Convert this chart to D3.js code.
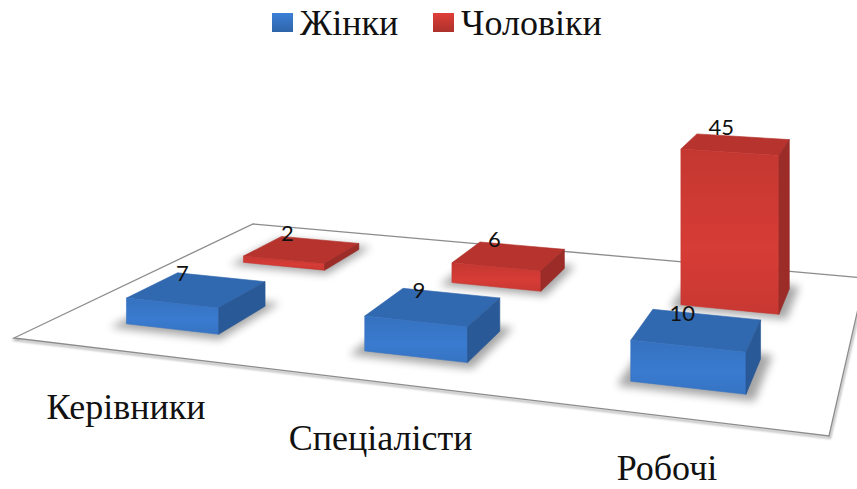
<!DOCTYPE html>
<html>
<head>
<meta charset="utf-8">
<script src="https://cdn.jsdelivr.net/npm/d3@7"></script>
<style>
  body { margin: 0; background: #fff; }
  svg { display: block; }
</style>
</head>
<body>
<script>
const categories = ['Керівники', 'Спеціалісти', 'Робочі'];
const seriesNames = ['Жінки', 'Чоловіки'];
const women = [7, 9, 10];
const men = [2, 6, 45];
const seriesColors = ['#3877c9', '#cf3a34'];

const width = 857, height = 489;

const svg = d3.select('body').append('svg')
    .attr('width', width)
    .attr('height', height);

const defs = svg.append('defs');
defs.append('filter').attr('id', 'blur')
    .attr('x', '-30%').attr('y', '-30%').attr('width', '160%').attr('height', '160%')
    .append('feGaussianBlur').attr('stdDeviation', 4);
defs.append('filter').attr('id', 'blurLine')
    .append('feGaussianBlur').attr('stdDeviation', 1.2);

seriesColors.forEach((c, i) => {
    let grad = defs.append('linearGradient').attr('id', 'leg' + i)
        .attr('x1', 0).attr('y1', 0).attr('x2', 0).attr('y2', 1);
    grad.append('stop').attr('offset', '0%').attr('stop-color', d3.color(c).brighter(0.2));
    grad.append('stop').attr('offset', '100%').attr('stop-color', d3.color(c).darker(0.5));
    let front = defs.append('linearGradient').attr('id', 'front' + i)
        .attr('x1', 0).attr('y1', 0).attr('x2', 0).attr('y2', 1);
    front.append('stop').attr('offset', '0%').attr('stop-color', d3.color(c).darker(0.15));
    front.append('stop').attr('offset', '60%').attr('stop-color', d3.color(c).brighter(0.1));
    front.append('stop').attr('offset', '100%').attr('stop-color', d3.color(c).darker(0.1));
});

// floor corners on screen: front-left, front-right, back-right, back-left
const floor = [[14, 338], [829, 436], [865, 278], [253, 224]];

// square -> quad perspective mapping
function homography(q) {
    const [[x0, y0], [x1, y1], [x2, y2], [x3, y3]] = q;
    const dx1 = x1 - x2, dx2 = x3 - x2, dx3 = x0 - x1 + x2 - x3;
    const dy1 = y1 - y2, dy2 = y3 - y2, dy3 = y0 - y1 + y2 - y3;
    const den = dx1 * dy2 - dx2 * dy1;
    const g = (dx3 * dy2 - dx2 * dy3) / den;
    const h = (dx1 * dy3 - dx3 * dy1) / den;
    return {a: x1 - x0 + g * x1, b: x3 - x0 + h * x3, c: x0,
            d: y1 - y0 + g * y1, e: y3 - y0 + h * y3, f: y0, g, h};
}
const H = homography(floor);
function project(u, v, z) {
    const w = H.g * u + H.h * v + 1;
    return [(H.a * u + H.b * v + H.c) / w, (H.d * u + H.e * v + H.f - z) / w];
}

const x = d3.scaleBand().domain(categories).range([0, 1]);
const z = d3.scaleBand().domain(seriesNames).range([0, 1]);
const y = d3.scaleLinear().domain([0, 45]).range([0, 171]);

// floor
const g = svg.append('g');
g.append('polygon')
    .attr('points', floor.map(p => [p[0] + 1, p[1] + 2]).join(' '))
    .attr('fill', 'none')
    .attr('stroke', '#000')
    .attr('stroke-opacity', 0.3)
    .attr('stroke-width', 2)
    .attr('filter', 'url(#blurLine)');
g.append('polygon')
    .attr('points', floor.join(' '))
    .attr('fill', '#fff')
    .attr('stroke', '#8c8c8c')
    .attr('stroke-width', 1.3);

let bars = [];
seriesNames.forEach((s, si) => {
    let vals = si === 0 ? women : men;
    categories.forEach((c, ci) => bars.push({s, si, c, value: vals[ci]}));
});
bars.sort((a, b) => b.si - a.si); // back row first

function box(d) {
    let u0 = x(d.c) + x.bandwidth() * 0.3, u1 = x(d.c) + x.bandwidth() * 0.7;
    let v0 = z(d.s) + z.bandwidth() * 0.3, v1 = z(d.s) + z.bandwidth() * 0.7;
    return {u0, u1, v0, v1, t: y(d.value)};
}

function faces(d) {
    let {u0, u1, v0, v1, t} = box(d);
    let P = project;
    return [
        {k: 'top', pts: [P(u0, v0, t), P(u0, v1, t), P(u1, v1, t), P(u1, v0, t)]},
        {k: 'front', pts: [P(u0, v0, 0), P(u0, v0, t), P(u1, v0, t), P(u1, v0, 0)]},
        {k: 'back', pts: [P(u0, v1, 0), P(u1, v1, 0), P(u1, v1, t), P(u0, v1, t)]},
        {k: 'right', pts: [P(u1, v0, 0), P(u1, v0, t), P(u1, v1, t), P(u1, v1, 0)]},
        {k: 'left', pts: [P(u0, v0, 0), P(u0, v1, 0), P(u0, v1, t), P(u0, v0, t)]}
    ];
}

// shadows under the bars
g.selectAll('.shadow').data(bars).enter().append('polygon')
    .attr('class', 'shadow')
    .attr('points', d => {
        let {u0, u1, v0, v1} = box(d);
        let du = 0.012, dv = 0.03;
        return [project(u0 - du, v0 - dv, 0), project(u1 + du, v0 - dv, 0),
                project(u1 + du, v1 + dv, 0), project(u0 - du, v1 + dv, 0)].join(' ');
    })
    .attr('fill', '#000')
    .attr('opacity', 0.35)
    .attr('filter', 'url(#blur)');

const shade = {top: 0.35, front: 0, right: 0.8, left: 0.55, back: 0.9};

let barG = g.selectAll('.bar').data(bars).enter().append('g').attr('class', 'bar');
barG.each(function(d) {
    let fs = faces(d);
    let sign = Math.sign(d3.polygonArea(fs[0].pts));
    let visible = fs.filter(f => Math.sign(d3.polygonArea(f.pts)) === sign);
    d3.select(this).selectAll('polygon').data(visible).enter().append('polygon')
        .attr('points', f => f.pts.join(' '))
        .attr('fill', f => f.k === 'front' ? `url(#front${d.si})`
            : d3.color(seriesColors[d.si]).darker(shade[f.k]))
        .attr('stroke', f => d3.color(seriesColors[d.si]).darker(shade[f.k] + 0.1))
        .attr('stroke-width', 0.6)
        .attr('stroke-linejoin', 'round');
});

// value labels
g.selectAll('.value').data(bars).enter().append('text')
    .attr('class', 'value')
    .attr('x', d => project(x(d.c) + x.bandwidth() / 2, z(d.s) + z.bandwidth() / 2, y(d.value))[0] - 15)
    .attr('y', d => project(x(d.c) + x.bandwidth() / 2, z(d.s) + z.bandwidth() / 2, y(d.value))[1] - 9)
    .attr('text-anchor', 'middle')
    .style('font-family', 'Lato, "Open Sans", sans-serif')
    .style('font-size', '22px')
    .style('fill', '#111')
    .text(d => d.value);

// category labels (kept clear of the bottom edge)
g.selectAll('.cat').data(categories).enter().append('text')
    .attr('class', 'cat')
    .attr('x', d => project(x(d) + x.bandwidth() / 2, 0, 0)[0] - 5)
    .attr('y', d => Math.min(project(x(d) + x.bandwidth() / 2, 0, 0)[1] + 67, height - 9))
    .attr('text-anchor', 'middle')
    .style('font-family', '"Liberation Serif", "Times New Roman", serif')
    .style('font-size', '36px')
    .style('fill', '#111')
    .text(d => d);

// legend
const legendX = [272, 433];
let leg = svg.selectAll('.legend').data(seriesNames).enter().append('g')
    .attr('class', 'legend')
    .attr('transform', (d, i) => `translate(${legendX[i]}, 13)`);
leg.append('rect')
    .attr('width', 21)
    .attr('height', 19)
    .attr('fill', (d, i) => `url(#leg${i})`);
leg.append('text')
    .attr('x', 28)
    .attr('y', 22)
    .style('font-family', '"Liberation Serif", "Times New Roman", serif')
    .style('font-size', '36px')
    .style('fill', '#111')
    .text(d => d);
</script>
</body>
</html>
